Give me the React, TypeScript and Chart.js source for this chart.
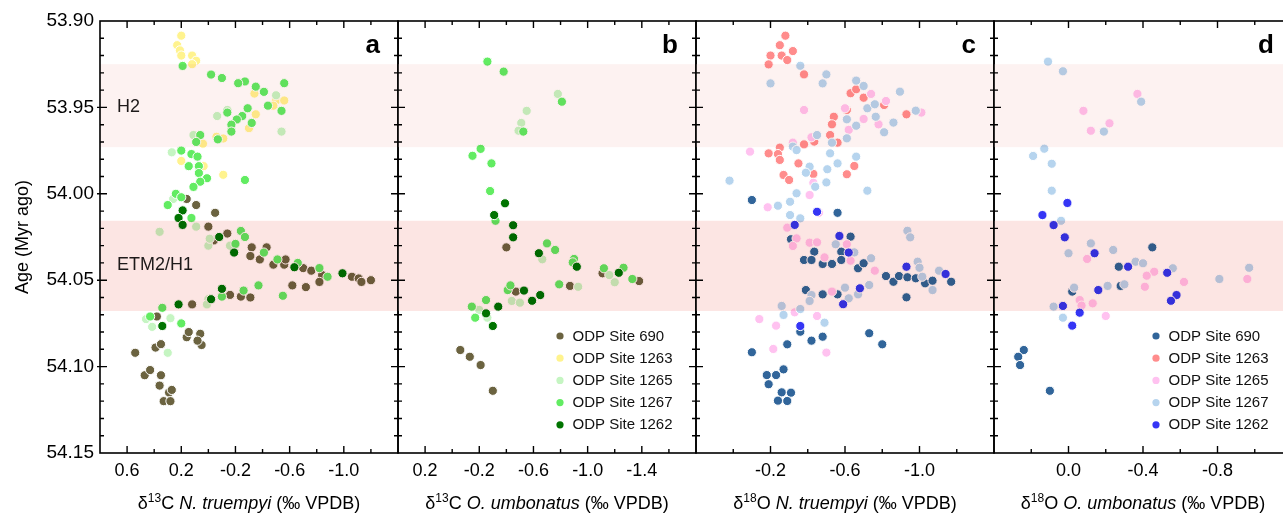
import React, { useEffect, useRef } from 'react';
import { Chart, registerables } from 'chart.js';

Chart.register(...registerables);

const FONT = '"Liberation Sans", Arial, Helvetica, sans-serif';

// ---------- shared age axis ----------
const ageMin = 53.9;
const ageMax = 54.15;
const ageStep = 0.01;

// ---------- hyperthermal bands ----------
const bandNames = ['H2', 'ETM2/H1'];
const bandTop = [53.925, 54.0156];
const bandBottom = [53.973, 54.0678];
const bandLabelAge = [53.95, 54.041];
const bandFill = ['#fdf2f1', '#fce5e3'];

// ---------- series ----------
const siteNames = ['ODP Site 690', 'ODP Site 1263', 'ODP Site 1265', 'ODP Site 1267', 'ODP Site 1262'];
const carbonColors = ['#6b6340', '#fff38e', '#c5f5c2', '#62ec62', '#007400'];
const oxygenColors = ['#31659a', '#ff8c8c', '#ffc2f0', '#b6d4ee', '#3535f5'];

// tick labels (values that carry a label)
const xLabelsA = [0.6, 0.2, -0.2, -0.6, -1.0];
const xLabelsB = [0.2, -0.2, -0.6, -1.0, -1.4];
const xLabelsC = [-0.2, -0.6, -1.0];
const xLabelsD = [0.0, -0.4, -0.8];

type Pt = [number, number];

// Panel a: d13C N. truempyi  [value, age]
const a690: Pt[] = [
  [0.16, 54.003], [0.09, 54.0065], [-0.05, 54.011], [0.0, 54.019], [-0.14, 54.023], [-0.04, 54.027],
  [-0.32, 54.031], [-0.43, 54.031], [-0.31, 54.036], [-0.38, 54.038], [-0.48, 54.041], [-0.56, 54.041],
  [-0.57, 54.038], [-0.7, 54.043], [-0.76, 54.0445], [-0.84, 54.047], [-0.82, 54.051], [-1.06, 54.048],
  [-1.11, 54.049], [-1.2, 54.05], [-1.13, 54.051], [-0.62, 54.053], [-0.72, 54.054], [-0.16, 54.0585],
  [-0.24, 54.0595], [-0.31, 54.06], [0.12, 54.064], [0.38, 54.071],
  [0.54, 54.092], [0.39, 54.089], [0.35, 54.087], [0.16, 54.083], [0.145, 54.08], [0.06, 54.081],
  [0.05, 54.0875], [0.08, 54.085], [0.47, 54.105], [0.43, 54.102], [0.35, 54.105], [0.36, 54.111],
  [0.29, 54.115], [0.27, 54.1135], [0.33, 54.12], [0.28, 54.12],
];
const a1263: Pt[] = [
  [0.2, 53.9085], [0.23, 53.914], [0.21, 53.917], [0.2, 53.92], [0.12, 53.92], [0.09, 53.923], [0.12, 53.925],
  [-0.34, 53.942], [-0.5, 53.946], [-0.56, 53.946], [-0.48, 53.949], [-0.35, 53.954], [-0.3, 53.962],
  [-0.06, 53.967], [-0.11, 53.968], [0.04, 53.971], [0.2, 53.981], [0.035, 53.984], [-0.11, 53.989],
];
const a1265: Pt[] = [
  [-0.5, 53.943], [-0.54, 53.964], [-0.065, 53.955], [-0.14, 53.9515], [0.11, 53.966], [0.27, 53.976],
  [0.26, 54.003], [0.36, 54.022], [0.09, 54.019], [0.0, 54.03], [-0.01, 54.026], [-0.16, 54.03],
  [0.0, 54.061], [0.01, 54.064], [0.46, 54.0725], [0.415, 54.077], [0.28, 54.072], [0.3, 54.092],
];
const a1267: Pt[] = [
  [0.19, 53.926], [-0.02, 53.931], [-0.1, 53.933], [-0.27, 53.935], [-0.22, 53.936], [-0.35, 53.938],
  [-0.41, 53.941], [-0.56, 53.936], [-0.44, 53.949], [-0.54, 53.952], [-0.29, 53.9505], [-0.25, 53.955],
  [-0.21, 53.957], [-0.17, 53.96], [-0.17, 53.964], [-0.32, 53.959], [-0.14, 53.953], [-0.07, 53.9685],
  [0.06, 53.966], [0.09, 53.97], [0.2, 53.975], [0.125, 53.977], [0.08, 53.9785], [0.145, 53.984],
  [0.07, 53.984], [0.07, 53.988], [0.01, 53.991], [0.06, 53.993], [0.11, 53.996], [-0.27, 53.992],
  [0.24, 54.0], [0.2, 54.002], [0.3, 54.0065], [0.125, 54.014], [-0.24, 54.0215], [-0.27, 54.025],
  [-0.2, 54.029], [-0.41, 54.034], [-0.51, 54.038], [-0.66, 54.04], [-0.82, 54.043], [-0.88, 54.048],
  [-0.37, 54.053], [-0.26, 54.056], [-0.1, 54.0595], [-0.55, 54.059], [0.34, 54.066], [0.43, 54.071],
  [0.2, 54.075],
];
const a1262: Pt[] = [
  [0.19, 54.0096], [0.22, 54.014], [0.19, 54.018], [-0.08, 54.025], [-0.19, 54.034], [-0.635, 54.0425],
  [-0.99, 54.046], [-0.1, 54.055], [-0.02, 54.061], [0.22, 54.064], [0.34, 54.0765],
];

// Panel b: d13C O. umbonatus
const b690: Pt[] = [
  [-0.4, 54.031], [-0.47, 54.0566], [-0.87, 54.0533], [-1.11, 54.046], [-1.38, 54.0505],
  [-0.06, 54.0904], [-0.13, 54.0943], [-0.21, 54.0991], [-0.3, 54.114],
];
const b1263: Pt[] = [];
const b1265: Pt[] = [
  [-0.78, 53.9422], [-0.55, 53.952], [-0.51, 53.959], [-0.49, 53.9635], [-0.665, 54.0379], [-0.93, 54.0538],
  [-1.2, 54.0512], [-1.16, 54.047], [-0.44, 54.062], [-0.5, 54.063], [-0.2, 54.0672], [-0.26, 54.0717],
];
const b1267: Pt[] = [
  [-0.26, 53.9235], [-0.38, 53.9293], [-0.81, 53.9467], [-0.525, 53.964], [-0.21, 53.974], [-0.15, 53.978],
  [-0.29, 53.9824], [-0.28, 53.9984], [-0.32, 54.0156], [-0.7, 54.0287], [-0.76, 54.0325], [-0.9, 54.0377],
  [-1.12, 54.0431], [-1.265, 54.0428], [-1.33, 54.0493], [-0.79, 54.0524], [-0.41, 54.0557], [-0.43, 54.053],
  [-0.25, 54.0615], [-0.145, 54.0653], [-0.17, 54.0717], [-0.89, 54.0397],
];
const b1262: Pt[] = [
  [-0.39, 54.0055], [-0.31, 54.0123], [-0.45, 54.0182], [-0.45, 54.0252], [-0.64, 54.0344], [-0.92, 54.0422],
  [-1.23, 54.0457], [-0.53, 54.056], [-0.65, 54.0586], [-0.59, 54.0619], [-0.34, 54.0653], [-0.25, 54.0692],
  [-0.3, 54.0765],
];

// Panel c: d18O N. truempyi
const c690: Pt[] = [
  [-0.1, 54.0036], [-0.56, 54.011], [-0.63, 54.0248], [-0.31, 54.0263], [-0.58, 54.0335], [-0.435, 54.0335],
  [-0.38, 54.0383], [-0.42, 54.0383], [-0.48, 54.0406], [-0.53, 54.0406], [-0.58, 54.0383], [-0.67, 54.0431],
  [-0.7, 54.0402], [-0.82, 54.0476], [-0.86, 54.0509], [-0.89, 54.0476], [-0.935, 54.0483], [-0.98, 54.0489],
  [-1.03, 54.0518], [-1.07, 54.0503], [-1.17, 54.0509], [-0.93, 54.0599], [-0.48, 54.0582], [-0.39, 54.0557],
  [-0.56, 54.0582], [-0.1, 54.0917], [-0.18, 54.1049], [-0.23, 54.1049], [-0.27, 54.1016], [-0.19, 54.1102],
  [-0.26, 54.1149], [-0.31, 54.1151], [-0.24, 54.1197], [-0.29, 54.1199], [-0.29, 54.0871], [-0.42, 54.085],
  [-0.48, 54.0827], [-0.36, 54.0798], [-0.73, 54.0807], [-0.8, 54.0871],
];
const c1263: Pt[] = [
  [-0.28, 53.9085], [-0.25, 53.914], [-0.2, 53.92], [-0.26, 53.92], [-0.32, 53.9174], [-0.29, 53.9226],
  [-0.19, 53.9251], [-0.38, 53.9309], [-0.63, 53.9418], [-0.66, 53.9395], [-0.7, 53.9444], [-0.61, 53.9515],
  [-0.81, 53.9486], [-0.93, 53.954], [-0.54, 53.9554], [-0.53, 53.9598], [-0.52, 53.966], [-0.56, 53.9704],
  [-0.38, 53.9714], [-0.435, 53.9698], [-0.19, 53.9766], [-0.25, 53.9733], [-0.24, 53.977], [-0.25, 53.9804],
  [-0.27, 53.9891], [-0.3, 53.992], [-0.35, 53.9824], [-0.61, 53.9887], [-0.65, 53.9839], [-0.43, 53.9885],
];
const c1265: Pt[] = [
  [-0.38, 53.9515], [-0.74, 53.9422], [-0.82, 53.9463], [-1.01, 53.953], [-0.6, 53.9505], [-0.7, 53.9567],
  [-0.78, 53.9598], [-0.62, 53.963], [-0.42, 53.9673], [-0.32, 53.9704], [-0.09, 53.9756], [-0.41, 54.0007],
  [-0.43, 53.9936], [-0.185, 54.0078], [-0.46, 54.011], [-0.29, 54.0196], [-0.34, 54.0258], [-0.32, 54.0302],
  [-0.41, 54.0283], [-0.45, 54.0281], [-0.61, 54.0292], [-0.49, 54.0368], [-0.63, 54.0387], [-0.76, 54.0445],
  [-0.53, 54.0566], [-0.45, 54.0707], [-0.33, 54.0686], [-0.14, 54.0725], [-0.23, 54.0763], [-0.215, 54.0898],
  [-0.5, 54.0919],
];
const c1267: Pt[] = [
  [-0.36, 53.9259], [-0.2, 53.9361], [-0.5, 53.9309], [-0.48, 53.9361], [-0.66, 53.9345], [-0.7, 53.9376],
  [-0.895, 53.9409], [-0.98, 53.9519], [-0.72, 53.9505], [-0.76, 53.9482], [-0.765, 53.9554], [-0.61, 53.9569],
  [-0.66, 53.9606], [-0.86, 53.9588], [-0.81, 53.9644], [-0.61, 53.9679], [-0.45, 53.966], [-0.53, 53.9704],
  [-0.32, 53.9727], [-0.34, 53.9747], [-0.52, 53.9766], [-0.66, 53.9785], [-0.56, 53.9824], [-0.505, 53.9858],
  [-0.41, 53.9843], [-0.39, 53.9878], [-0.5, 53.9934], [-0.44, 53.9959], [-0.34, 53.9997], [-0.72, 53.9982],
  [0.02, 53.9924], [-0.24, 54.0069], [-0.305, 54.0046], [-0.305, 54.0123], [-0.36, 54.0142],
  [-0.935, 54.0214], [-0.95, 54.0252], [-0.55, 54.0292], [-0.65, 54.0339], [-0.74, 54.0373], [-0.99, 54.0393],
  [-1.0, 54.0428], [-1.015, 54.048], [-1.105, 54.0445], [-1.07, 54.0557], [-0.73, 54.0528], [-0.67, 54.0582],
  [-0.6, 54.0543], [-0.62, 54.0605], [-0.42, 54.0586], [-0.41, 54.062], [-0.36, 54.0667], [-0.26, 54.0649],
  [-0.27, 54.0701], [-0.49, 54.0746],
];
const c1262: Pt[] = [
  [-0.45, 54.0104], [-0.33, 54.018], [-0.57, 54.0244], [-0.62, 54.034], [-0.93, 54.0422], [-1.14, 54.0464],
  [-0.68, 54.0547], [-0.59, 54.0639], [-0.36, 54.0765],
];

// Panel d: d18O O. umbonatus
const d690: Pt[] = [
  [-0.45, 54.031], [-0.27, 54.0422], [-0.28, 54.0533], [-0.02, 54.0566],
  [0.24, 54.0904], [0.27, 54.0943], [0.26, 54.0991], [0.1, 54.114],
];
const d1263: Pt[] = [];
const d1265: Pt[] = [
  [-0.37, 53.9422], [-0.08, 53.952], [-0.22, 53.9592], [-0.12, 53.9635], [-0.1, 54.0377], [-0.46, 54.0451],
  [-0.42, 54.0474], [-0.96, 54.0493], [-0.62, 54.051], [-0.41, 54.0538], [-0.06, 54.0615], [-0.07, 54.0647],
  [-0.13, 54.0634], [-0.2, 54.0707],
];
const d1267: Pt[] = [
  [0.11, 53.9235], [0.03, 53.9291], [-0.39, 53.9467], [-0.19, 53.964], [0.13, 53.9739], [0.19, 53.9781],
  [0.09, 53.9826], [0.09, 53.9982], [0.04, 54.0156], [-0.12, 54.0287], [-0.24, 54.0325], [0.0, 54.0344],
  [-0.36, 54.0393], [-0.4, 54.0402], [-0.56, 54.0431], [-0.97, 54.0428], [-0.81, 54.0493], [-0.3, 54.0524],
  [-0.21, 54.0533], [-0.03, 54.0543], [0.08, 54.0653], [0.03, 54.0717],
];
const d1262: Pt[] = [
  [0.006, 54.0053], [0.14, 54.0123], [0.08, 54.0181], [0.02, 54.0252], [-0.14, 54.0344], [-0.32, 54.0422],
  [-0.53, 54.0457], [-0.16, 54.0557], [0.03, 54.0649], [-0.06, 54.0688], [-0.02, 54.0763], [-0.58, 54.0586],
  [-0.55, 54.0619],
];

// ---------- panel layout ----------
type Part = [string, 'n' | 'i' | 's'];
interface PanelDef {
  letter: string;
  left: number;
  right: number;
  xMin: number;
  xMax: number;
  labels: number[];
  series: Pt[][];
  colors: string[];
  title: Part[];
  showY: boolean;
  legend: boolean;
  bandText: boolean;
}

const PLOT_TOP = 21;
const PLOT_BOTTOM = 453;
const H = 513;
const MARGIN = 14;

const panels: PanelDef[] = [
  {
    letter: 'a', left: 100, right: 398, xMin: -1.4, xMax: 0.8, labels: xLabelsA,
    series: [a690, a1263, a1265, a1267, a1262], colors: carbonColors,
    title: [['δ', 'n'], ['13', 's'], ['C ', 'n'], ['N. truempyi', 'i'], [' (‰ VPDB)', 'n']],
    showY: true, legend: false, bandText: true,
  },
  {
    letter: 'b', left: 398, right: 696, xMin: -1.8, xMax: 0.4, labels: xLabelsB,
    series: [b690, b1263, b1265, b1267, b1262], colors: carbonColors,
    title: [['δ', 'n'], ['13', 's'], ['C ', 'n'], ['O. umbonatus', 'i'], [' (‰ VPDB)', 'n']],
    showY: false, legend: true, bandText: false,
  },
  {
    letter: 'c', left: 696, right: 994, xMin: -1.4, xMax: 0.2, labels: xLabelsC,
    series: [c690, c1263, c1265, c1267, c1262], colors: oxygenColors,
    title: [['δ', 'n'], ['18', 's'], ['O ', 'n'], ['N. truempyi', 'i'], [' (‰ VPDB)', 'n']],
    showY: false, legend: false, bandText: false,
  },
  {
    letter: 'd', left: 994, right: 1292, xMin: -1.2, xMax: 0.4, labels: xLabelsD,
    series: [d690, d1263, d1265, d1267, d1262], colors: oxygenColors,
    title: [['δ', 'n'], ['18', 's'], ['O ', 'n'], ['O. umbonatus', 'i'], [' (‰ VPDB)', 'n']],
    showY: false, legend: true, bandText: false,
  },
];

const isLabeled = (labels: number[], v: number) => labels.some((l) => Math.abs(l - v) < 1e-6);
const fmt1 = (v: number) => (Math.abs(v) < 1e-9 ? '0.0' : v.toFixed(1));

function fontOf(style: 'n' | 'i' | 's') {
  if (style === 'i') return `italic 18px ${FONT}`;
  if (style === 's') return `12px ${FONT}`;
  return `18px ${FONT}`;
}

function drawRich(ctx: CanvasRenderingContext2D, parts: Part[], cx: number, baseline: number) {
  let total = 0;
  const widths = parts.map(([t, s]) => {
    ctx.font = fontOf(s);
    const w = ctx.measureText(t).width;
    total += w;
    return w;
  });
  let x = cx - total / 2;
  ctx.textAlign = 'left';
  ctx.textBaseline = 'alphabetic';
  parts.forEach(([t, s], i) => {
    ctx.font = fontOf(s);
    ctx.fillText(t, x, s === 's' ? baseline - 7 : baseline);
    x += widths[i];
  });
}

function makeDecor(p: PanelDef) {
  return {
    id: 'decor_' + p.letter,
    afterDatasetsDraw(chart: any) {
      const ctx: CanvasRenderingContext2D = chart.ctx;
      const { left, right, top, bottom } = chart.chartArea;
      const xs = chart.scales.x;
      const ys = chart.scales.y;
      ctx.save();

      // bands (multiplied over the points)
      ctx.globalCompositeOperation = 'multiply';
      for (let i = 0; i < bandNames.length; i++) {
        const y0 = ys.getPixelForValue(bandTop[i]);
        const y1 = ys.getPixelForValue(bandBottom[i]);
        ctx.fillStyle = bandFill[i];
        ctx.fillRect(left, y0, right - left, y1 - y0);
      }
      ctx.globalCompositeOperation = 'source-over';

      // band labels
      if (p.bandText) {
        ctx.fillStyle = '#1e1a1a';
        ctx.font = `18px ${FONT}`;
        ctx.textAlign = 'left';
        ctx.textBaseline = 'middle';
        for (let i = 0; i < bandNames.length; i++) {
          ctx.fillText(bandNames[i], left + 17, ys.getPixelForValue(bandLabelAge[i]));
        }
      }

      // legend
      if (p.legend) {
        ctx.font = `15px ${FONT}`;
        ctx.textAlign = 'left';
        ctx.textBaseline = 'middle';
        chart.data.datasets.forEach((ds: any, i: number) => {
          const yy = 336 + i * 22.2;
          ctx.fillStyle = ds.backgroundColor;
          ctx.beginPath();
          ctx.arc(right - 136, yy, 3.6, 0, Math.PI * 2);
          ctx.fill();
          ctx.fillStyle = '#111';
          ctx.fillText(ds.label, right - 123.5, yy + 0.5);
        });
      }

      // panel letter
      ctx.fillStyle = '#000';
      ctx.font = `bold 26px ${FONT}`;
      ctx.textAlign = 'right';
      ctx.textBaseline = 'alphabetic';
      ctx.fillText(p.letter, right - 18, 53);

      // ticks
      ctx.strokeStyle = '#000';
      ctx.lineWidth = 1.4;
      ctx.beginPath();
      const nx = Math.round((p.xMax - p.xMin) / 0.2);
      for (let i = 1; i < nx; i++) {
        const v = p.xMin + i * 0.2;
        const px = xs.getPixelForValue(v);
        const len = isLabeled(p.labels, v) ? 7 : 4;
        ctx.moveTo(px, bottom);
        ctx.lineTo(px, bottom - len);
        ctx.moveTo(px, top);
        ctx.lineTo(px, top + len);
      }
      const ny = Math.round((ageMax - ageMin) / ageStep);
      for (let i = 1; i < ny; i++) {
        const v = ageMin + i * ageStep;
        const py = ys.getPixelForValue(v);
        const major = i % 5 === 0;
        const len = major ? 7 : 4;
        ctx.moveTo(left - (major && p.showY ? 3 : 0), py);
        ctx.lineTo(left + len, py);
        ctx.moveTo(right, py);
        ctx.lineTo(right - len, py);
      }
      ctx.stroke();

      // frame
      ctx.lineWidth = 1.6;
      ctx.strokeRect(left, top, right - left, bottom - top);

      // x-axis title
      ctx.fillStyle = '#000';
      drawRich(ctx, p.title, (left + right) / 2, 509);

      ctx.restore();
    },
  };
}

function buildConfig(p: PanelDef): any {
  const datasets = p.series.map((s, i) => ({
    label: siteNames[i],
    data: s.map(([x, y]) => ({ x, y })),
    backgroundColor: p.colors[i],
    borderColor: '#ffffff',
    borderWidth: 1,
    pointRadius: 4.6,
    pointHoverRadius: 4.6,
    order: p.series.length - i,
  }));
  const padLeft = p.showY ? 0 : MARGIN;
  return {
    type: 'scatter',
    data: { datasets },
    options: {
      animation: false,
      responsive: false,
      maintainAspectRatio: false,
      devicePixelRatio: 1,
      events: [],
      layout: { padding: { left: padLeft, right: MARGIN, top: PLOT_TOP, bottom: 0 } },
      plugins: { legend: { display: false }, tooltip: { enabled: false } },
      scales: {
        x: {
          type: 'linear',
          position: 'bottom',
          min: p.xMin,
          max: p.xMax,
          reverse: true,
          afterFit: (s: any) => {
            s.height = H - PLOT_BOTTOM;
          },
          grid: { display: false, drawTicks: false },
          border: { display: false },
          ticks: {
            stepSize: 0.2,
            autoSkip: false,
            maxRotation: 0,
            minRotation: 0,
            padding: 7,
            color: '#000',
            font: { family: FONT, size: 18 },
            callback: (v: number) => (isLabeled(p.labels, v) ? fmt1(v) : ''),
          },
        },
        y: p.showY
          ? {
              type: 'linear',
              position: 'left',
              min: ageMin,
              max: ageMax,
              reverse: true,
              afterFit: (s: any) => {
                s.width = p.left;
              },
              grid: { display: false, drawTicks: false },
              border: { display: false },
              ticks: {
                stepSize: ageStep,
                autoSkip: false,
                padding: 6,
                color: '#000',
                font: { family: FONT, size: 19 },
                callback: (v: number) => (Math.round(v * 100) % 5 === 0 ? v.toFixed(2) : ''),
              },
              title: {
                display: true,
                text: 'Age (Myr ago)',
                color: '#000',
                font: { family: FONT, size: 18 },
                padding: { top: 12, bottom: 0 },
              },
            }
          : { type: 'linear', min: ageMin, max: ageMax, reverse: true, display: false },
      },
    },
    plugins: [makeDecor(p)],
  };
}

function canvasBox(p: PanelDef) {
  const x0 = p.showY ? 0 : p.left - MARGIN;
  const w = p.right + MARGIN - x0;
  return { x0, w };
}

export default function App() {
  const refs = useRef<(HTMLCanvasElement | null)[]>([]);

  useEffect(() => {
    const charts = panels.map((p, i) => {
      const c = refs.current[i]!;
      return new Chart(c, buildConfig(p));
    });
    return () => charts.forEach((ch) => ch.destroy());
  }, []);

  return (
    <div
      style={{
        position: 'absolute',
        left: 0,
        top: 0,
        width: 1283,
        height: H,
        overflow: 'hidden',
        background: '#fff',
      }}
    >
      {panels.map((p, i) => {
        const { x0, w } = canvasBox(p);
        return (
          <canvas
            key={p.letter}
            ref={(el) => {
              refs.current[i] = el;
            }}
            width={w}
            height={H}
            style={{ position: 'absolute', left: x0, top: 0, width: w, height: H }}
          />
        );
      })}
    </div>
  );
}
